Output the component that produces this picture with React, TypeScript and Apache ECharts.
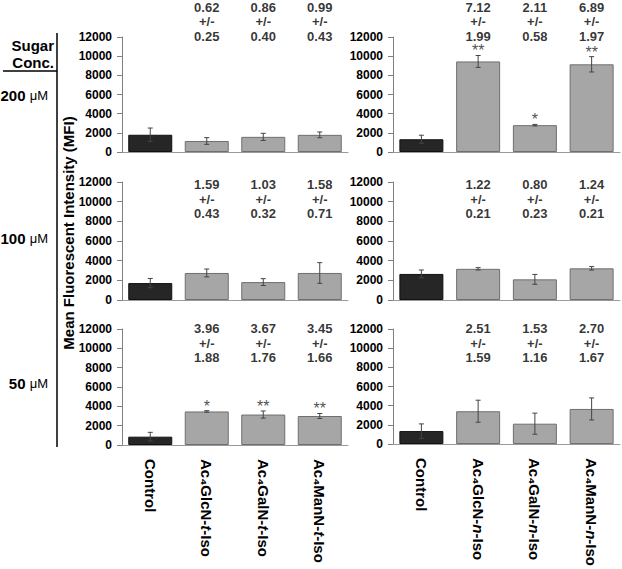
import React, { useEffect, useRef } from 'react';
import * as echarts from 'echarts';

const FONT = '"Liberation Sans", Arial, sans-serif';

const categoriesT = ['Control', 'Ac4GlcN-t-Iso', 'Ac4GalN-t-Iso', 'Ac4ManN-t-Iso'];
const categoriesN = ['Control', 'Ac4GlcN-n-Iso', 'Ac4GalN-n-Iso', 'Ac4ManN-n-Iso'];
const concentrations = ['200', '100', '50'];
const yMin = 0;
const yMax = 12000;
const yInterval = 2000;

// mean fluorescent intensity (MFI) and error
const mean200T = [1800, 1150, 1580, 1790];
const err200T = [700, 350, 370, 300];
const mean200N = [1330, 9450, 2800, 9150];
const err200N = [420, 620, 80, 800];
const mean100T = [1720, 2750, 1820, 2750];
const err100T = [470, 400, 350, 1050];
const mean100N = [2650, 3170, 2100, 3220];
const err100N = [400, 120, 500, 180];
const mean50T = [860, 3470, 3150, 3000];
const err50T = [450, 80, 370, 260];
const mean50N = [1350, 3420, 2120, 3660];
const err50N = [750, 1150, 1100, 1150];

// fold change +/- sd (treatments only)
const fold200T = [0.62, 0.86, 0.99];
const sd200T = [0.25, 0.40, 0.43];
const fold200N = [7.12, 2.11, 6.89];
const sd200N = [1.99, 0.58, 1.97];
const fold100T = [1.59, 1.03, 1.58];
const sd100T = [0.43, 0.32, 0.71];
const fold100N = [1.22, 0.80, 1.24];
const sd100N = [0.21, 0.23, 0.21];
const fold50T = [3.96, 3.67, 3.45];
const sd50T = [1.88, 1.76, 1.66];
const fold50N = [2.51, 1.53, 2.70];
const sd50N = [1.59, 1.16, 1.67];

// significance marks
const stars200T = ['', '', '', ''];
const stars200N = ['', '**', '*', '**'];
const stars100T = ['', '', '', ''];
const stars100N = ['', '', '', ''];
const stars50T = ['', '*', '**', '**'];
const stars50N = ['', '', '', ''];

const panels = [
  { row: 0, col: 0, cats: categoriesT, mean: mean200T, err: err200T, fold: fold200T, sd: sd200T, stars: stars200T },
  { row: 0, col: 1, cats: categoriesN, mean: mean200N, err: err200N, fold: fold200N, sd: sd200N, stars: stars200N },
  { row: 1, col: 0, cats: categoriesT, mean: mean100T, err: err100T, fold: fold100T, sd: sd100T, stars: stars100T },
  { row: 1, col: 1, cats: categoriesN, mean: mean100N, err: err100N, fold: fold100N, sd: sd100N, stars: stars100N },
  { row: 2, col: 0, cats: categoriesT, mean: mean50T, err: err50T, fold: fold50T, sd: sd50T, stars: stars50T },
  { row: 2, col: 1, cats: categoriesN, mean: mean50N, err: err50N, fold: fold50N, sd: sd50N, stars: stars50N },
];

const rowTop = [37, 182, 329];
const rowBottom = [152, 300, 445];
const colLeft = [122, 393];
const colWidth = [226, 227];
const annotOffset = [-15.5, 17, 14];
const concY = [95, 238, 383];

function fmtCat(label: string): string {
  const m = label.match(/^Ac4(\w+)-(t|n)-Iso$/);
  if (!m) return `{a|${label}}`;
  return `{a|Ac\u2084${m[1]}-}{i|${m[2]}}{a|-Iso}`;
}

export default function App() {
  const ref = useRef<HTMLDivElement>(null);
  useEffect(() => {
    if (!ref.current) return;
    const chart = echarts.init(ref.current, undefined, { renderer: 'svg' });
    const grid: any[] = [];
    const xAxis: any[] = [];
    const yAxis: any[] = [];
    const series: any[] = [];
    panels.forEach((p, k) => {
      grid.push({
        left: colLeft[p.col],
        width: colWidth[p.col],
        top: rowTop[p.row],
        height: rowBottom[p.row] - rowTop[p.row],
      });
      const isBottom = p.row === 2;
      xAxis.push({
        type: 'category',
        gridIndex: k,
        data: p.cats,
        axisLine: { show: true, lineStyle: { color: '#999', width: 1 } },
        axisTick: { show: false },
        axisLabel: {
          show: isBottom,
          rotate: -90,
          margin: 14,
          formatter: (v: string) => fmtCat(v),
          rich: {
            a: { fontFamily: FONT, fontSize: 15, fontWeight: 'bold', color: '#000', lineHeight: 18 },
            i: { fontFamily: FONT, fontSize: 15, fontWeight: 'bold', fontStyle: 'italic', color: '#000', lineHeight: 18 },
          },
        },
      });
      yAxis.push({
        type: 'value',
        gridIndex: k,
        min: yMin,
        max: yMax,
        interval: yInterval,
        splitLine: { show: false },
        axisLine: { show: true, lineStyle: { color: '#808080', width: 1 } },
        axisTick: { show: true, length: 5, lineStyle: { color: '#808080' } },
        axisLabel: {
          margin: 10,
          formatter: (v: number) => String(v),
          fontFamily: FONT,
          fontSize: 12,
          fontWeight: 'bold',
          color: '#000',
        },
      });
      series.push({
        type: 'bar',
        xAxisIndex: k,
        yAxisIndex: k,
        barWidth: 44,
        data: p.mean.map((v, i) => ({
          value: v,
          itemStyle: {
            color: i === 0 ? '#262626' : '#a6a6a6',
            borderColor: i === 0 ? '#111' : '#6f6f6f',
            borderWidth: 1,
          },
        })),
      });
      series.push({
        type: 'custom',
        xAxisIndex: k,
        yAxisIndex: k,
        z: 5,
        clip: false,
        data: p.mean.map((v, i) => [i, v, p.err[i]]),
        encode: { x: 0, y: 1 },
        renderItem: (params: any, api: any) => {
          const x = api.value(0);
          const m = api.value(1);
          const e = api.value(2);
          const top = api.coord([x, m + e]);
          const bot = api.coord([x, m - e]);
          const hw = 2.5;
          const st = { stroke: '#444', lineWidth: 1 };
          return {
            type: 'group',
            children: [
              { type: 'line', shape: { x1: top[0], y1: top[1], x2: bot[0], y2: bot[1] }, style: st },
              { type: 'line', shape: { x1: top[0] - hw, y1: top[1], x2: top[0] + hw, y2: top[1] }, style: st },
              { type: 'line', shape: { x1: bot[0] - hw, y1: bot[1], x2: bot[0] + hw, y2: bot[1] }, style: st },
            ],
          };
        },
      });
      series.push({
        type: 'scatter',
        xAxisIndex: k,
        yAxisIndex: k,
        clip: false,
        silent: true,
        symbolSize: 1,
        itemStyle: { color: 'rgba(0,0,0,0)' },
        data: p.fold.map((f, j) => ({
          value: [j + 1, yMax],
          name: `${f.toFixed(2)}\n+/-\n${p.sd[j].toFixed(2)}`,
        })),
        label: {
          show: true,
          position: 'inside',
          offset: [0, annotOffset[p.row]],
          formatter: '{b}',
          fontFamily: FONT,
          fontSize: 13,
          fontWeight: 'bold',
          lineHeight: 14.5,
          color: '#000',
        },
      });
      const starData = p.stars
        .map((s, i) => ({ s, i }))
        .filter((d) => d.s)
        .map((d) => ({ value: [d.i, p.mean[d.i] + p.err[d.i]], name: d.s }));
      series.push({
        type: 'scatter',
        xAxisIndex: k,
        yAxisIndex: k,
        clip: false,
        silent: true,
        symbolSize: 1,
        itemStyle: { color: 'rgba(0,0,0,0)' },
        data: starData,
        label: {
          show: true,
          position: 'top',
          distance: -4,
          formatter: '{b}',
          fontFamily: FONT,
          fontSize: 16,
          color: '#222',
        },
      });
    });

    const graphic: any[] = [
      { type: 'text', style: { text: 'Sugar', x: 54, y: 45, textAlign: 'right', textVerticalAlign: 'middle', font: `bold 15px ${FONT}`, fill: '#000' } },
      { type: 'text', style: { text: 'Conc.', x: 54, y: 62, textAlign: 'right', textVerticalAlign: 'middle', font: `bold 15px ${FONT}`, fill: '#000' } },
      { type: 'line', shape: { x1: 3, y1: 71, x2: 57, y2: 71 }, style: { stroke: '#000', lineWidth: 1.5 } },
      { type: 'line', shape: { x1: 57, y1: 33, x2: 57, y2: 447 }, style: { stroke: '#000', lineWidth: 1.5 } },
      {
        type: 'text',
        x: 68,
        y: 233,
        rotation: Math.PI / 2,
        style: { text: 'Mean Fluorescent Intensity (MFI)', x: 0, y: 0, textAlign: 'center', textVerticalAlign: 'middle', font: `bold 15px ${FONT}`, fill: '#000' },
      },
    ];
    concentrations.forEach((c, r) => {
      graphic.push({
        type: 'text',
        style: {
          text: `{b|${c} }{u|μM}`,
          x: 48,
          y: concY[r],
          textAlign: 'right',
          textVerticalAlign: 'middle',
          rich: {
            b: { fontFamily: FONT, fontSize: 15, fontWeight: 'bold', fill: '#000' },
            u: { fontFamily: FONT, fontSize: 13, fill: '#000' },
          },
        },
      });
    });

    chart.setOption({
      animation: false,
      backgroundColor: '#fff',
      grid,
      xAxis,
      yAxis,
      series,
      graphic,
    });
    return () => chart.dispose();
  }, []);
  return <div ref={ref} style={{ position: 'fixed', left: 0, top: 0, width: 622, height: 569 }} />;
}
